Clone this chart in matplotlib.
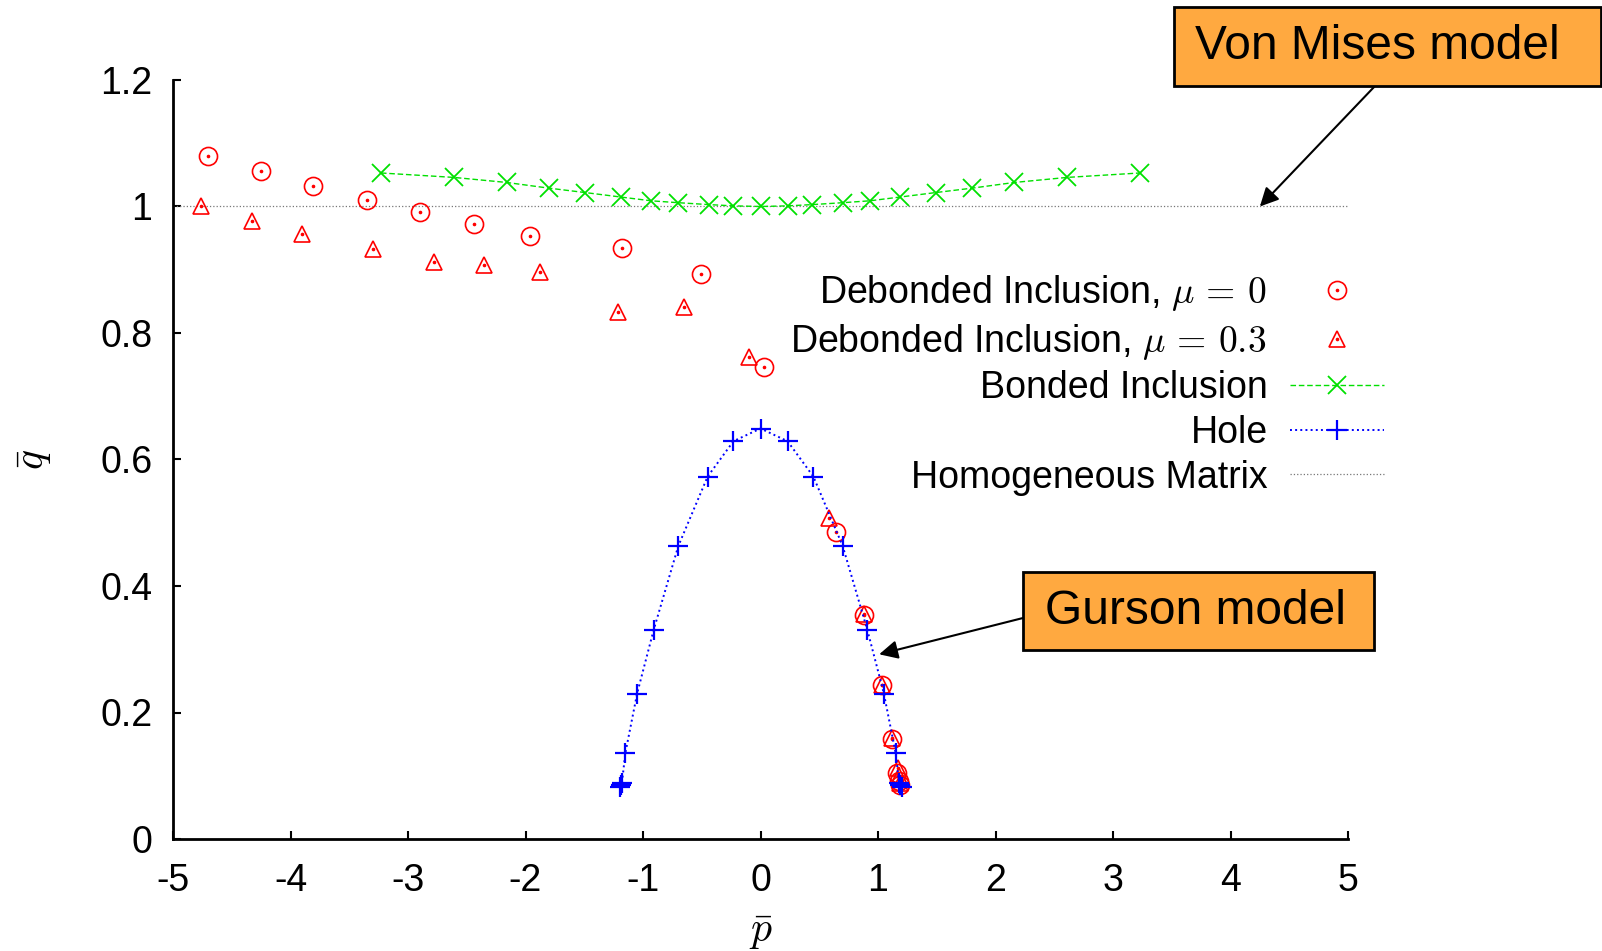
import numpy as np
import matplotlib
matplotlib.use("Agg")
import matplotlib.pyplot as plt
from matplotlib.patches import Rectangle

plt.rcParams["font.family"] = ["Liberation Sans", "DejaVu Sans"]
plt.rcParams["mathtext.fontset"] = "cm"

# Debonded inclusion, mu = 0
deb0_p = [-4.70, -4.25, -3.81, -3.35, -2.90, -2.44, -1.96, -1.18, -0.51, 0.03,
          0.645, 0.88, 1.03, 1.12, 1.16, 1.18, 1.19]
deb0_q = [1.080, 1.056, 1.033, 1.011, 0.991, 0.972, 0.954, 0.935, 0.894, 0.747,
          0.485, 0.354, 0.243, 0.158, 0.105, 0.092, 0.086]

# Debonded inclusion, mu = 0.3
deb3_p = [-4.76, -4.33, -3.90, -3.30, -2.78, -2.35, -1.88, -1.21, -0.65, -0.10,
          0.58, 0.88, 1.03, 1.12, 1.17, 1.18, 1.19]
deb3_q = [1.000, 0.977, 0.956, 0.933, 0.912, 0.907, 0.896, 0.833, 0.841, 0.762,
          0.508, 0.356, 0.244, 0.160, 0.112, 0.099, 0.089]

# Bonded inclusion
bond_p = [-3.23, -2.61, -2.16, -1.80, -1.49, -1.19, -0.93, -0.70, -0.44, -0.23,
          0.0, 0.23, 0.44, 0.70, 0.93, 1.19, 1.49, 1.80, 2.16, 2.61, 3.23]
bond_q = [1.053, 1.046, 1.038, 1.029, 1.022, 1.015, 1.009, 1.006, 1.003, 1.001,
          1.000, 1.001, 1.003, 1.006, 1.009, 1.015, 1.022, 1.029, 1.038, 1.046, 1.053]

# Hole
hole_p = [-1.20, -1.19, -1.18, -1.15, -1.05, -0.91, -0.70, -0.45, -0.23, 0.0,
          0.23, 0.45, 0.70, 0.91, 1.05, 1.15, 1.18, 1.19, 1.20]
hole_q = [0.082, 0.085, 0.088, 0.136, 0.230, 0.330, 0.463, 0.573, 0.629, 0.649,
          0.629, 0.573, 0.463, 0.330, 0.230, 0.136, 0.088, 0.085, 0.082]

# Homogeneous matrix
homo_p = [-5, 5]
homo_q = [1.0, 1.0]

RED, GREEN, BLUE = "#ff0000", "#00e000", "#0000ff"

fig = plt.figure(figsize=(16.02, 9.51), dpi=100)
ax = fig.add_axes([173 / 1602, 1 - 839 / 951, (1348 - 173) / 1602, (839 - 80) / 951])

homo, = ax.plot(homo_p, homo_q, ls=":", color="#777777", lw=0.9)
c0, = ax.plot(deb0_p, deb0_q, ls="none", marker="o", ms=13, mfc="none",
              mec=RED, mew=1.2)
d0, = ax.plot(deb0_p, deb0_q, ls="none", marker="o", ms=1.6, color=RED)
t3, = ax.plot(deb3_p, deb3_q, ls="none", marker="^", ms=12, mfc="none",
              mec=RED, mew=1.2)
d3, = ax.plot(deb3_p, deb3_q, ls="none", marker="o", ms=1.6, color=RED)
bond, = ax.plot(bond_p, bond_q, ls=(0, (4, 2)), lw=1.0, color=GREEN,
                marker="x", ms=13, mew=1.3)
hole, = ax.plot(hole_p, hole_q, ls=":", lw=1.4, color=BLUE,
                marker="+", ms=14, mew=1.6)

ax.set_xlim(-5, 5)
ax.set_ylim(0, 1.2)
ax.set_xticks(np.arange(-5, 6, 1))
ax.set_yticks([0, 0.2, 0.4, 0.6, 0.8, 1, 1.2])
ax.set_yticklabels(["0", "0.2", "0.4", "0.6", "0.8", "1", "1.2"])
ax.set_xticklabels([str(v) for v in range(-5, 6)])
ax.tick_params(direction="in", length=6, width=1.5, labelsize=27)
ax.tick_params(axis="x", pad=17)
ax.tick_params(axis="y", pad=15)
for s in ("top", "right"):
    ax.spines[s].set_visible(False)
for s in ("left", "bottom"):
    ax.spines[s].set_linewidth(2.0)
ax.set_xlabel(r"$\bar{p}$", fontsize=30, labelpad=10)
ax.set_ylabel(r"$\bar{q}$", fontsize=30, labelpad=33)

handles = [(c0, d0), (t3, d3), bond, hole, homo]
labels = ["Debonded Inclusion, $\\mu\\,=\\,0$\u2003",
          "Debonded Inclusion, $\\mu\\,=\\,0.3$\u2002",
          "Bonded Inclusion", "Hole", "Homogeneous Matrix"]
ax.legend(handles, labels, loc="upper right", frameon=False, markerfirst=False,
          fontsize=27, numpoints=1, handlelength=2.5, handletextpad=0.6,
          labelspacing=0.23, borderpad=0, borderaxespad=0,
          bbox_to_anchor=(1384 / 1602, 1 - 273 / 951),
          bbox_transform=fig.transFigure)

# annotation boxes
ORANGE = "#ffa940"
for (x0, y0, x1, y1, tx, label) in [(1174, 7, 1601, 86, 1195, "Von Mises model"),
                                     (1023, 572, 1374, 650, 1045, "Gurson model")]:
    fig.patches.append(Rectangle((x0 / 1602, 1 - y1 / 951), (x1 - x0) / 1602,
                                 (y1 - y0) / 951, transform=fig.transFigure,
                                 fc=ORANGE, ec="k", lw=2, zorder=5))
    fig.text(tx / 1602, 1 - (y0 + y1) / 2 / 951, label, fontsize=34.5,
             ha="left", va="center", zorder=6)

arrow = dict(arrowstyle="-|>", color="k", lw=1.5, mutation_scale=28,
             shrinkA=0, shrinkB=0)
ax.annotate("", xy=(4.25, 1.0), xytext=(1375, 951 - 86),
            textcoords="figure pixels", arrowprops=arrow)
ax.annotate("", xy=(1.01, 0.292), xytext=(1023, 951 - 618),
            textcoords="figure pixels", arrowprops=arrow)

fig.savefig("out.png", dpi=100)
